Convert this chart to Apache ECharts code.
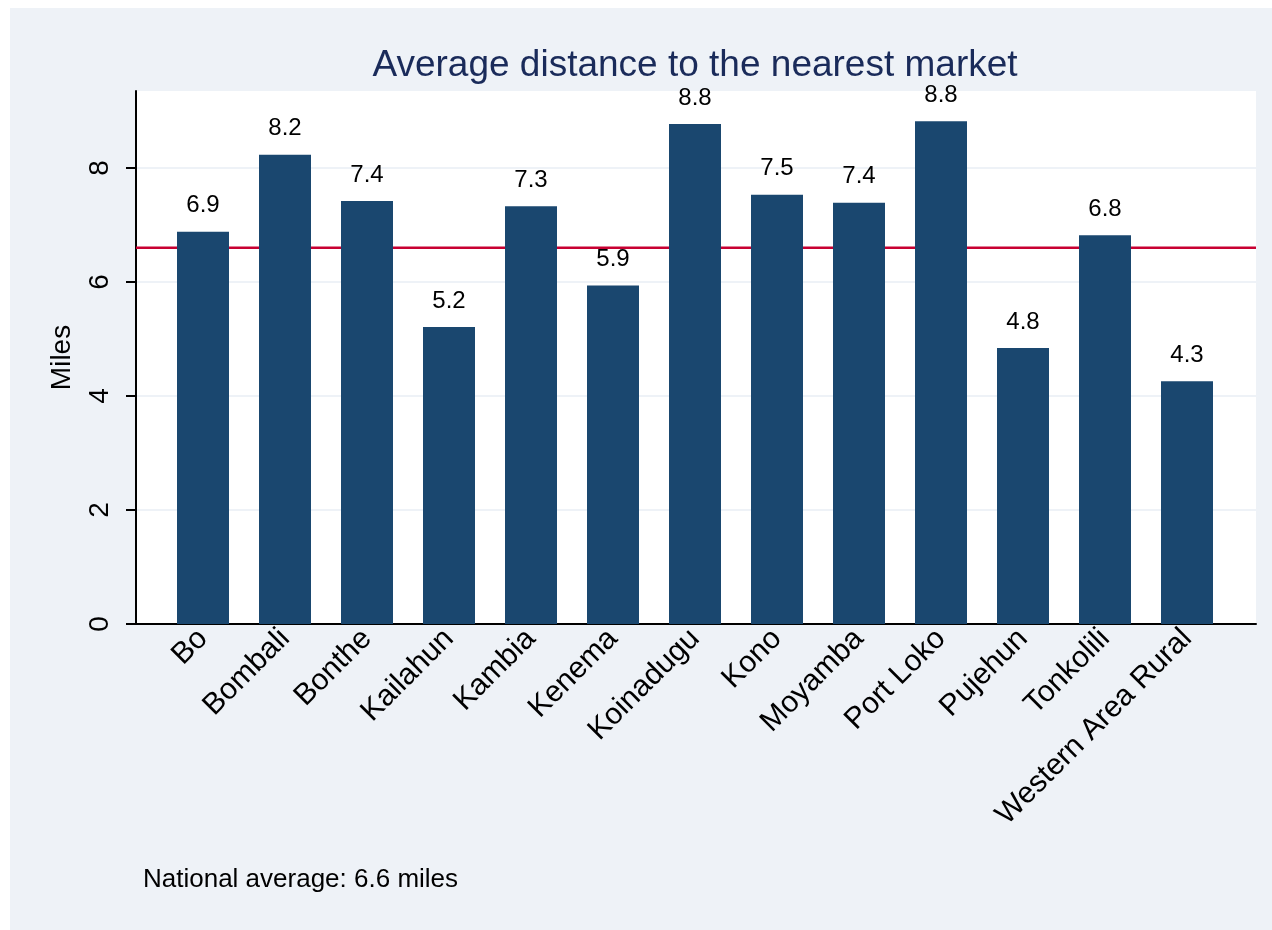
<!DOCTYPE html>
<html>
<head>
<meta charset="utf-8">
<script src="https://cdn.jsdelivr.net/npm/echarts@6/dist/echarts.min.js"></script>
<style>
  html, body { margin: 0; padding: 0; background: #ffffff; }
  #bg { position: absolute; left: 10px; top: 8px; right: 0; bottom: 0; background: #eef2f7; }
  #chart { position: absolute; left: 0; top: 0; width: 1272px; height: 930px; }
</style>
</head>
<body>
<div id="bg"></div>
<div id="chart"></div>
<script>
const districts = ["Bo", "Bombali", "Bonthe", "Kailahun", "Kambia", "Kenema", "Koinadugu",
  "Kono", "Moyamba", "Port Loko", "Pujehun", "Tonkolili", "Western Area Rural"];
const distance = [6.88, 8.23, 7.42, 5.21, 7.33, 5.94, 8.77, 7.53, 7.39, 8.82, 4.84, 6.82, 4.26];
const nationalAverage = 6.6;
const yTicks = [0, 2, 4, 6, 8];
const yMax = 9.35;

const font = "'Liberation Sans', Arial, sans-serif";
const chart = echarts.init(document.getElementById("chart"));

const option = {
  animation: false,
  textStyle: { fontFamily: font },
  title: {
    text: "Average distance to the nearest market",
    left: 690,
    textAlign: "center",
    top: 42,
    textStyle: { fontFamily: font, fontSize: 37, fontWeight: "normal", color: "#1a2b5a" }
  },
  grid: [
    { left: 136, right: 16, top: 91, bottom: 306, show: true, backgroundColor: "#ffffff", borderWidth: 0 },
    { left: 162, right: 44, top: 91, bottom: 306 }
  ],
  xAxis: [
    {
      gridIndex: 0, type: "value", min: 0, max: 1,
      axisLine: { show: true, lineStyle: { color: "#000", width: 2 } },
      axisTick: { show: false }, axisLabel: { show: false }, splitLine: { show: false }
    },
    {
      gridIndex: 1, type: "category", data: districts,
      axisLine: { show: false }, axisTick: { show: false },
      axisLabel: { interval: 0, rotate: 45, margin: 10, fontSize: 30, color: "#000", fontFamily: font }
    }
  ],
  yAxis: [
    {
      gridIndex: 0, type: "value", min: 0, max: yMax,
      name: "Miles", nameLocation: "middle", nameRotate: 90, nameGap: 60,
      nameTextStyle: { fontSize: 28, color: "#000", fontFamily: font },
      axisLine: { show: true, lineStyle: { color: "#000", width: 2 } },
      axisTick: { show: true, length: 10, lineStyle: { color: "#000", width: 2 }, customValues: yTicks },
      axisLabel: { rotate: 90, margin: 22, fontSize: 28, color: "#000", fontFamily: font, customValues: yTicks },
      splitLine: { show: true, lineStyle: { color: "#eef2f7", width: 2 } }
    },
    { gridIndex: 1, type: "value", min: 0, max: yMax, show: false }
  ],
  series: [
    {
      type: "line", xAxisIndex: 0, yAxisIndex: 0, z: 2,
      data: [[0, nationalAverage], [1, nationalAverage]],
      symbol: "none", silent: true,
      lineStyle: { color: "#c80032", width: 2.5 }
    },
    {
      type: "bar", xAxisIndex: 1, yAxisIndex: 1, z: 3,
      data: distance, barWidth: 52,
      itemStyle: { color: "#1a476f" },
      label: {
        show: true, position: "top", distance: 14,
        fontSize: 24, color: "#000", fontFamily: font,
        formatter: p => p.value.toFixed(1)
      }
    }
  ],
  graphic: [
    {
      type: "text", x: 143, y: 880,
      style: { text: "National average: " + nationalAverage.toFixed(1) + " miles", fontSize: 26, fill: "#000", fontFamily: font, verticalAlign: "middle" }
    }
  ]
};

chart.setOption(option);
</script>
</body>
</html>
